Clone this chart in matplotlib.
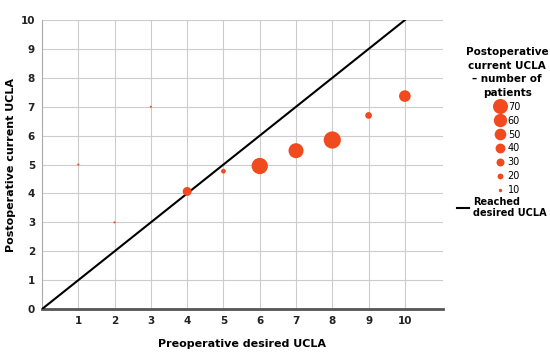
import numpy as np
import matplotlib
matplotlib.use("Agg")
import matplotlib.pyplot as plt
from matplotlib.lines import Line2D

# data
desired = [1, 2, 3, 4, 5, 6, 7, 8, 9, 10]
current = [5.0, 3.0, 7.0, 4.07, 4.77, 4.95, 5.48, 5.85, 6.7, 7.37]
patients = [5, 5, 5, 35, 15, 78, 70, 84, 24, 50]
legend_counts = [70, 60, 50, 40, 30, 20, 10]
ticks = list(range(0, 11))

orange = "#f04a1e"


def marker_diam(n):
    """diameter in points for a patient count"""
    return 15 * (n / 70.0) ** 0.75 * 0.72


plt.rcParams["font.family"] = "DejaVu Sans"
fig = plt.figure(figsize=(5.5, 3.52), dpi=100)
ax = fig.add_axes([0.0764, 0.122, 0.729, 0.821])

ax.set_xlim(0, 11.05)
ax.set_ylim(0, 10)
ax.set_xticks(ticks[1:])
ax.set_yticks(ticks)
ax.grid(True, color="#cccccc", lw=0.8)
ax.set_axisbelow(True)

for s in ["top", "right"]:
    ax.spines[s].set_visible(False)
ax.spines["bottom"].set_color("#555555")
ax.spines["bottom"].set_linewidth(2)
ax.spines["left"].set_color("#aaaaaa")
ax.spines["left"].set_linewidth(0.8)
ax.tick_params(length=0, labelsize=7.5, pad=5)
for lab in ax.get_xticklabels() + ax.get_yticklabels():
    lab.set_fontweight("bold")
    lab.set_color("#222222")

ax.plot([0, 10], [0, 10], color="black", lw=1.5, zorder=3)
sizes = [marker_diam(n) ** 2 for n in patients]
ax.scatter(desired, current, s=sizes, color=orange, edgecolors="none", zorder=4)

ax.set_xlabel("Preoperative desired UCLA", fontsize=8, fontweight="bold", labelpad=9)
ax.set_ylabel("Postoperative current UCLA", fontsize=8, fontweight="bold", labelpad=4)
ax.yaxis.set_label_coords(-0.065, 0.5)

handles = [Line2D([], [], ls="none", marker="o", color=orange, markeredgewidth=0,
                  markersize=marker_diam(n)) for n in legend_counts]
leg = fig.legend(handles, [str(n) for n in legend_counts],
                 title="Postoperative\ncurrent UCLA\n\u2013 number of\npatients",
                 title_fontproperties={"weight": "bold", "size": 7.5},
                 loc="upper center", bbox_to_anchor=(0.922, 0.88),
                 frameon=False, fontsize=7, labelspacing=0.4,
                 handletextpad=0.2, handlelength=1.2, borderpad=0)
leg._legend_box.align = "center"
leg.get_title().set_linespacing(1.45)
leg.get_title().set_multialignment("center")

fig.legend([Line2D([], [], color="black", lw=1.5)], ["Reached\ndesired UCLA"],
           loc="center left", bbox_to_anchor=(0.822, 0.41), frameon=False,
           prop={"weight": "bold", "size": 7}, handlelength=1.2,
           handletextpad=0.5, borderpad=0)

fig.savefig("out.png", dpi=100)
